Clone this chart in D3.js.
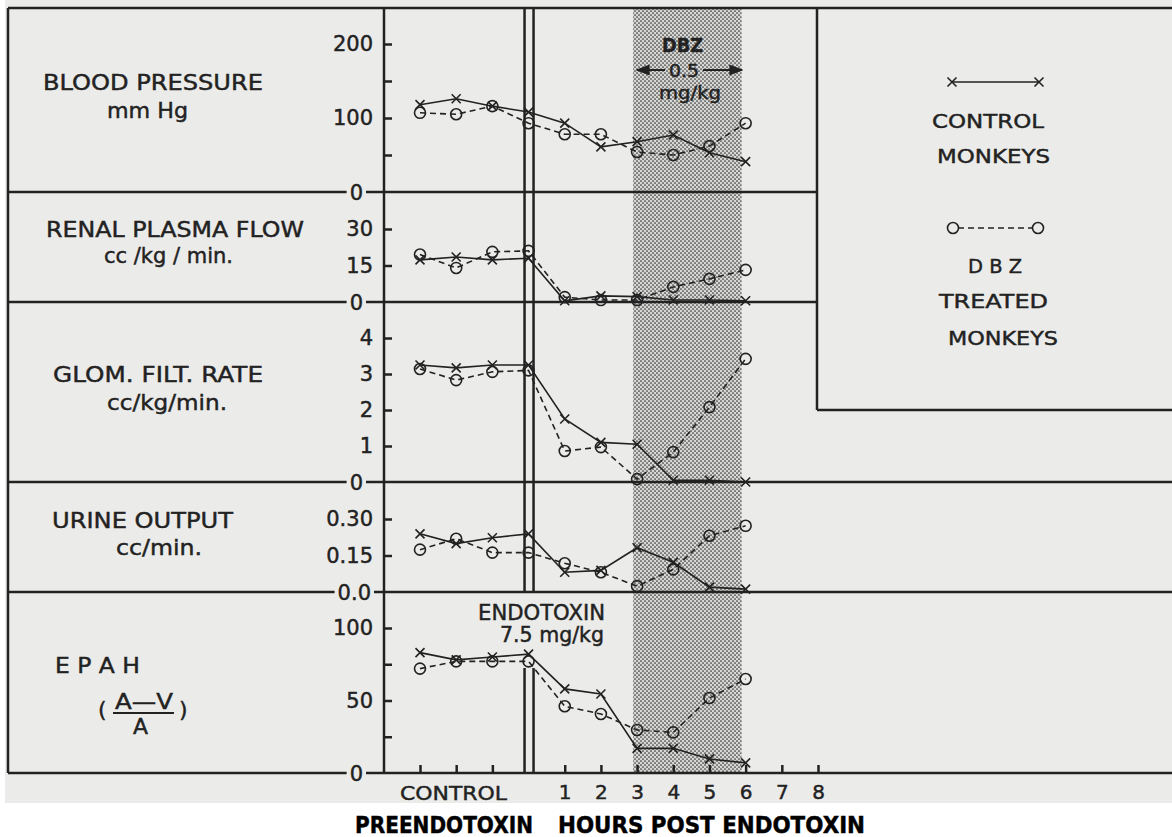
<!DOCTYPE html>
<html><head><meta charset="utf-8">
<script src="https://cdn.jsdelivr.net/npm/d3@7"></script>
<style>
body{margin:0;background:#fff;}
svg text{font-family:"DejaVu Sans","Noto Sans",sans-serif;fill:#222;stroke:#222;stroke-width:0.45px;}
</style>
</head><body>
<svg id="c" width="1172" height="837"></svg>
<script>
// ---------- DATA ----------
const hours = [-3, -2, -1, 0, 1, 2, 3, 4, 5, 6];   // -3..0 = control (pre-endotoxin) samples
const hourTicks = [-3, -2, -1, 1, 2, 3, 4, 5, 6, 7, 8];
const dbzPeriod = [3, 6];

const bpControl    = [118, 126, 116, 108, 93, 61, 68, 77, 53, 41];
const bpDBZ        = [107, 105, 116, 93, 78, 78, 54, 50, 62, 93];
const rpfControl   = [17.3, 18.5, 17.3, 18, 0.5, 2.5, 2.2, 0.8, 0.8, 0.5];
const rpfDBZ       = [19.5, 14, 20.6, 21, 2, 0.8, 0.8, 6.2, 9.5, 13.2];
const gfrControl   = [3.25, 3.17, 3.25, 3.25, 1.75, 1.1, 1.05, 0.05, 0.05, 0];
const gfrDBZ       = [3.14, 2.83, 3.06, 3.1, 0.86, 0.97, 0.08, 0.83, 2.08, 3.42];
const urineControl = [0.239, 0.199, 0.223, 0.239, 0.081, 0.089, 0.182, 0.122, 0.02, 0.012];
const urineDBZ     = [0.174, 0.219, 0.162, 0.162, 0.118, 0.081, 0.024, 0.093, 0.231, 0.272];
const epahControl  = [83, 78, 80, 82, 58, 54.5, 17, 17, 9.7, 7];
const epahDBZ      = [72, 77, 77, 77, 46, 40.7, 29.7, 28, 51.7, 64.8];

const bpTicks = [50, 100, 150, 200],   bpLabeled = [100, 200];
const rpfTicks = [15, 30],             rpfLabeled = [15, 30];
const gfrTicks = [1, 2, 3, 4],         gfrLabeled = [1, 2, 3, 4];
const urineTicks = [0.15, 0.30],       urineLabeled = [0.15, 0.30];
const epahTicks = [25, 50, 75, 100],   epahLabeled = [50, 100];

// ---------- LAYOUT ----------
const ink = "#222", paper = "#ebebe9";
const svg = d3.select("#c");
const AX = 384, LEFT = 8, TOP = 8, RIGHT = 1172, LEGX = 817;

const x = d3.scaleLinear().domain([-3, 8]).range([420, 818]);

const panels = [
  {control: bpControl, dbz: bpDBZ, y: d3.scaleLinear().domain([0, 200]).range([192, 44]),
   ticks: bpTicks, labeled: bpLabeled, fmt: d => d, zero: "0", lineEnd: LEGX},
  {control: rpfControl, dbz: rpfDBZ, y: d3.scaleLinear().domain([0, 30]).range([302, 229]),
   ticks: rpfTicks, labeled: rpfLabeled, fmt: d => d, zero: "0", lineEnd: LEGX},
  {control: gfrControl, dbz: gfrDBZ, y: d3.scaleLinear().domain([0, 4]).range([482, 338]),
   ticks: gfrTicks, labeled: gfrLabeled, fmt: d => d, zero: "0", lineEnd: RIGHT},
  {control: urineControl, dbz: urineDBZ, y: d3.scaleLinear().domain([0, 0.30]).range([592, 519]),
   ticks: urineTicks, labeled: urineLabeled, fmt: d => d.toFixed(2), zero: "0.0", lineEnd: RIGHT},
  {control: epahControl, dbz: epahDBZ, y: d3.scaleLinear().domain([0, 100]).range([773, 628]),
   ticks: epahTicks, labeled: epahLabeled, fmt: d => d, zero: "0", lineEnd: RIGHT}
];

// paper
svg.append("rect").attr("x", 5).attr("y", 0).attr("width", RIGHT - 5).attr("height", 803).attr("fill", paper);

// stipple pattern
const defs = svg.append("defs");
const pat = defs.append("pattern").attr("id", "dots").attr("patternUnits", "userSpaceOnUse")
  .attr("width", 4).attr("height", 4);
pat.append("rect").attr("width", 4).attr("height", 4).attr("fill", "#d6d6d4");
pat.append("circle").attr("cx", 1).attr("cy", 1).attr("r", 0.85).attr("fill", "#333");
pat.append("circle").attr("cx", 3).attr("cy", 3).attr("r", 0.85).attr("fill", "#333");

const bandX0 = x(dbzPeriod[0]) - 4, bandX1 = x(dbzPeriod[1]) - 4;
svg.append("rect").attr("x", bandX0).attr("y", TOP).attr("width", bandX1 - bandX0)
  .attr("height", 773 - TOP).attr("fill", "url(#dots)");

// frame
const frame = svg.append("g").attr("stroke", ink).attr("fill", "none");
frame.append("line").attr("x1", LEFT).attr("x2", RIGHT).attr("y1", TOP).attr("y2", TOP).attr("stroke-width", 2.5);
frame.append("line").attr("x1", LEFT).attr("x2", LEFT).attr("y1", TOP).attr("y2", 773).attr("stroke-width", 2.5);
frame.append("line").attr("x1", AX).attr("x2", AX).attr("y1", TOP).attr("y2", 773).attr("stroke-width", 2.5);
// legend box
frame.append("line").attr("x1", LEGX).attr("x2", LEGX).attr("y1", TOP).attr("y2", 410).attr("stroke-width", 2.5);
frame.append("line").attr("x1", LEGX).attr("x2", RIGHT).attr("y1", 410).attr("y2", 410).attr("stroke-width", 2.5);

// panel zero lines + y axes
panels.forEach(p => {
  const y0 = p.y(0);
  frame.append("line").attr("x1", LEFT).attr("x2", p.lineEnd).attr("y1", y0).attr("y2", y0).attr("stroke-width", 2.5);
  const ax = svg.append("g").attr("transform", `translate(${AX},0)`)
    .call(d3.axisLeft(p.y).tickValues(p.ticks).tickSizeInner(-8).tickSizeOuter(0).tickPadding(11)
      .tickFormat(d => p.labeled.includes(d) ? p.fmt(d) : ""));
  ax.select(".domain").remove();
  ax.selectAll(".tick line").attr("stroke", ink).attr("stroke-width", 2.5);
  ax.selectAll(".tick text").style("font-size", "21px").attr("fill", ink);
  // zero label sitting on the line
  const zEnd = p.zero === "0.0" ? 371 : 363;
  const zt = svg.append("text").attr("x", zEnd).attr("y", y0).attr("dy", "0.36em")
    .attr("text-anchor", "end").style("font-size", "21px").text(p.zero);
  const bb = zt.node().getBBox();
  svg.insert("rect", () => zt.node()).attr("x", bb.x - 3).attr("y", y0 - 3)
    .attr("width", bb.width + 6).attr("height", 6).attr("fill", paper);
});

// x axis
const xa = svg.append("g").attr("transform", "translate(0,773)")
  .call(d3.axisBottom(x).tickValues(hourTicks).tickSizeInner(-8).tickSizeOuter(0).tickPadding(12)
    .tickFormat(d => d > 0 ? d : ""));
xa.select(".domain").remove();
xa.selectAll(".tick line").attr("stroke", ink).attr("stroke-width", 2.5);
xa.selectAll(".tick text").style("font-size", "20px").attr("fill", ink);
svg.append("text").attr("x", 400).attr("y", 800).attr("textLength", 107).attr("lengthAdjust", "spacingAndGlyphs")
  .style("font-size", "20px").text("CONTROL");

// endotoxin double line
[x(0) - 4, x(0) + 5].forEach(xx => {
  frame.append("line").attr("x1", xx).attr("x2", xx).attr("y1", TOP).attr("y2", 592).attr("stroke-width", 2.5);
  frame.append("line").attr("x1", xx).attr("x2", xx).attr("y1", 668).attr("y2", 773).attr("stroke-width", 2.5);
});

// data
const line = p => d3.line().x((d, i) => x(hours[i])).y(d => p.y(d));
const plot = svg.append("g");
function xMark(g, cx, cy, s) {
  g.append("path").attr("d", `M${cx - s},${cy - s}L${cx + s},${cy + s}M${cx - s},${cy + s}L${cx + s},${cy - s}`)
    .attr("stroke", ink).attr("stroke-width", 1.6).attr("fill", "none");
}
panels.forEach(p => {
  plot.append("path").datum(p.control).attr("d", line(p)).attr("fill", "none")
    .attr("stroke", ink).attr("stroke-width", 1.6);
  plot.append("path").datum(p.dbz).attr("d", line(p)).attr("fill", "none")
    .attr("stroke", ink).attr("stroke-width", 1.6).attr("stroke-dasharray", "6,4");
  p.control.forEach((v, i) => xMark(plot, x(hours[i]), p.y(v), 4.5));
  plot.selectAll(null).data(p.dbz).enter().append("circle")
    .attr("cx", (d, i) => x(hours[i])).attr("cy", d => p.y(d)).attr("r", 5.5)
    .attr("fill", "none").attr("stroke", ink).attr("stroke-width", 1.6);
});

// text helpers
function T(str, x0, yb, w, size, opts = {}) {
  const t = svg.append("text").attr("x", x0).attr("y", yb).style("font-size", size + "px").text(str);
  if (w) t.attr("textLength", w).attr("lengthAdjust", "spacingAndGlyphs");
  if (opts.bold) t.style("font-weight", "bold");
  if (opts.anchor) t.attr("text-anchor", opts.anchor);
  return t;
}

// panel labels
T("BLOOD PRESSURE", 43, 90, 220, 22);
T("mm Hg", 107, 118, 81, 22);
T("RENAL PLASMA FLOW", 46, 237, 258, 22);
T("cc /kg / min.", 104, 263, 129, 22);
T("GLOM. FILT. RATE", 53, 382, 210, 22);
T("cc/kg/min.", 107, 410, 120, 22);
T("URINE OUTPUT", 52, 528, 181, 22);
T("cc/min.", 116, 555, 86, 22);
T("E P A H", 55, 673, 85, 22);
T("(", 98, 717, null, 22);
T("A\u2014V", 115, 709, 58, 21);
svg.append("line").attr("x1", 113).attr("x2", 174).attr("y1", 713).attr("y2", 713).attr("stroke", ink).attr("stroke-width", 2);
T("A", 133, 734, 15, 21);
T(")", 179, 717, null, 22);

// endotoxin label
T("ENDOTOXIN", 478, 620, 127, 21);
T("7.5 mg/kg", 500, 642, 104, 21);

// DBZ label in band
T("DBZ", 662, 52, 41, 20, {bold: true});
T("0.5", 669, 77, 30, 17);
T("mg/kg", 659, 99, 62, 18);
defs.append("marker").attr("id", "ah").attr("viewBox", "0 0 10 10").attr("refX", 9).attr("refY", 5)
  .attr("markerWidth", 7).attr("markerHeight", 7).attr("orient", "auto-start-reverse")
  .append("path").attr("d", "M0,1L10,5L0,9z").attr("fill", ink);
svg.append("line").attr("x1", 665).attr("x2", 637).attr("y1", 70).attr("y2", 70).attr("stroke", ink)
  .attr("stroke-width", 2).attr("marker-end", "url(#ah)");
svg.append("line").attr("x1", 703).attr("x2", 742).attr("y1", 70).attr("y2", 70).attr("stroke", ink)
  .attr("stroke-width", 2).attr("marker-end", "url(#ah)");

// legend
const lg = svg.append("g");
lg.append("line").attr("x1", 952).attr("x2", 1039).attr("y1", 82).attr("y2", 82).attr("stroke", ink).attr("stroke-width", 1.6);
xMark(lg, 952, 82, 4.5); xMark(lg, 1039, 82, 4.5);
T("CONTROL", 932, 128, 112, 20);
T("MONKEYS", 937, 163, 113, 20);
lg.append("line").attr("x1", 958).attr("x2", 1033).attr("y1", 228).attr("y2", 228).attr("stroke", ink)
  .attr("stroke-width", 1.6).attr("stroke-dasharray", "6,4");
[953, 1038].forEach(cx => lg.append("circle").attr("cx", cx).attr("cy", 228).attr("r", 5.5)
  .attr("fill", "none").attr("stroke", ink).attr("stroke-width", 1.6));
T("D B Z", 968, 273, 54, 20);
T("TREATED", 939, 308, 109, 20);
T("MONKEYS", 948, 345, 110, 20);

// bottom title
T("PREENDOTOXIN", 355, 833, 178, 23, {bold: true}).style("fill", "#000").style("stroke", "#000");
T("HOURS POST ENDOTOXIN", 558, 833, 307, 23, {bold: true}).style("fill", "#000").style("stroke", "#000");
</script>
</body></html>
